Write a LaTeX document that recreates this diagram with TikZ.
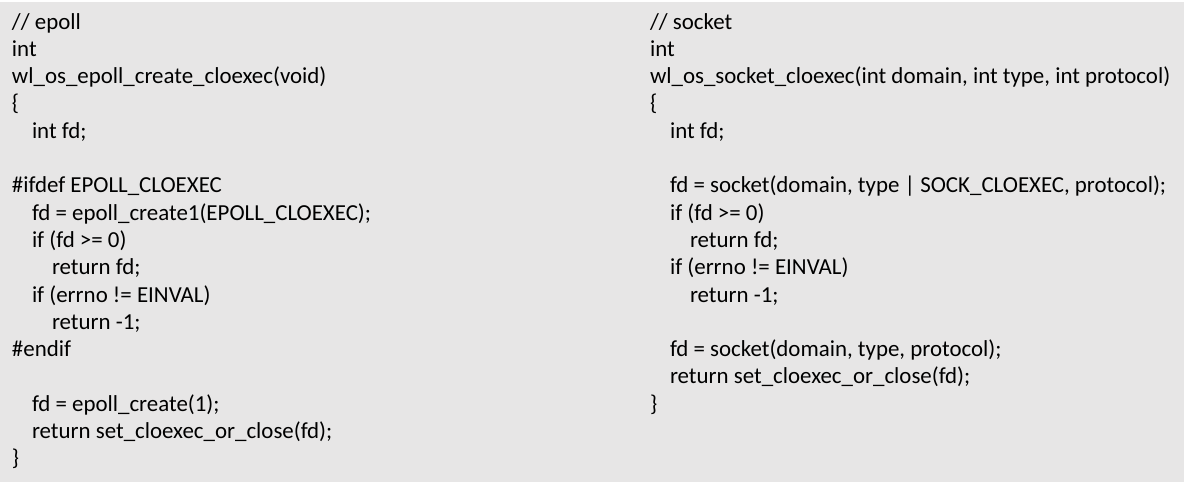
\documentclass[tikz,border=0pt]{standalone}
\usepackage{fontspec}
\setmainfont{Carlito}
\usetikzlibrary{positioning}
\definecolor{slidegray}{HTML}{E7E6E6}
\tikzset{codeline/.style={anchor=base west, inner sep=0pt, outer sep=0pt,
    font=\fontsize{22.9}{27.3}\selectfont}}

\begin{document}
\begin{tikzpicture}[x=1pt, y=-1pt]
    \pgfmathsetmacro{\lh}{27.3}
    \pgfmathsetmacro{\ind}{20}
    \useasboundingbox (0,0) rectangle (1184,482);
    \fill[slidegray] (0,2) rectangle (1184,482);
    %
    \begin{scope}[shift={(12,29)}]
      \node[codeline] (epcomment) at (0,0) {// epoll};
      \node[codeline] (eptype) at (0,\lh) {int};
      \node[codeline] (epname) at (0,2*\lh) {wl\_os\_epoll\_create\_cloexec(void)};
      \node[codeline] (epopen) at (0,3*\lh) {\{};
      \node[codeline] (epdecl) at (\ind,4*\lh) {int fd;};
      \node[codeline] (epifdef) at (0,6*\lh) {\#ifdef EPOLL\_CLOEXEC};
      \node[codeline] (epcreatea) at (\ind,7*\lh) {fd = epoll\_create1(EPOLL\_CLOEXEC);};
      \node[codeline] (epifa) at (\ind,8*\lh) {if (fd >= 0)};
      \node[codeline] (epreta) at (2*\ind,9*\lh) {return fd;};
      \node[codeline] (epifb) at (\ind,10*\lh) {if (errno != EINVAL)};
      \node[codeline] (epretb) at (2*\ind,11*\lh) {return -1;};
      \node[codeline] (ependif) at (0,12*\lh) {\#endif};
      \node[codeline] (epcreateb) at (\ind,14*\lh) {fd = epoll\_create(1);};
      \node[codeline] (epretc) at (\ind,15*\lh) {return set\_cloexec\_or\_close(fd);};
      \node[codeline] (epclose) at (0,16*\lh) {\}};
    \end{scope}
    %
    \begin{scope}[shift={(650,29)}]
      \node[codeline] (skcomment) at (0,0) {// socket};
      \node[codeline] (sktype) at (0,\lh) {int};
      \node[codeline] (skname) at (0,2*\lh) {wl\_os\_socket\_cloexec(int domain, int type, int protocol)};
      \node[codeline] (skopen) at (0,3*\lh) {\{};
      \node[codeline] (skdecl) at (\ind,4*\lh) {int fd;};
      \node[codeline] (skcreatea) at (\ind,6*\lh) {fd = socket(domain, type | SOCK\_CLOEXEC, protocol);};
      \node[codeline] (skifa) at (\ind,7*\lh) {if (fd >= 0)};
      \node[codeline] (skreta) at (2*\ind,8*\lh) {return fd;};
      \node[codeline] (skifb) at (\ind,9*\lh) {if (errno != EINVAL)};
      \node[codeline] (skretb) at (2*\ind,10*\lh) {return -1;};
      \node[codeline] (skcreateb) at (\ind,12*\lh) {fd = socket(domain, type, protocol);};
      \node[codeline] (skretc) at (\ind,13*\lh) {return set\_cloexec\_or\_close(fd);};
      \node[codeline] (skclose) at (0,14*\lh) {\}};
    \end{scope}
\end{tikzpicture}
\end{document}
